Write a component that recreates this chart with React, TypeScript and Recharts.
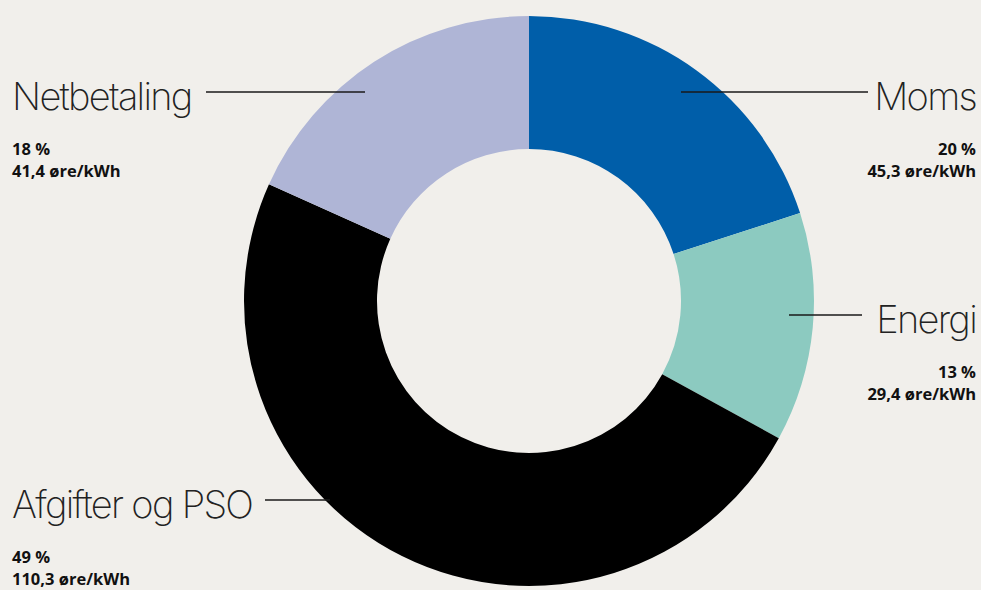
import { PieChart, Pie, Cell } from 'recharts'

const categories = ['Moms', 'Energi', 'Afgifter og PSO', 'Netbetaling']
const values = [45.3, 29.4, 110.3, 41.4]
const shares = ['20 %', '13 %', '49 %', '18 %']
const priceLabels = ['45,3 øre/kWh', '29,4 øre/kWh', '110,3 øre/kWh', '41,4 øre/kWh']
const colors = ['#005ea9', '#8ccac0', '#000000', '#afb5d6']

// where each label block sits (title baseline, side, line end)
const labelPos: Record<string, { x: number; y: number; anchor: 'start' | 'end'; lineFrom: number; lineTo: number }> = {
  'Moms': { x: 976, y: 110, anchor: 'end', lineFrom: 681, lineTo: 868 },
  'Energi': { x: 976, y: 333, anchor: 'end', lineFrom: 789, lineTo: 862 },
  'Afgifter og PSO': { x: 12, y: 518, anchor: 'start', lineFrom: 265, lineTo: 330 },
  'Netbetaling': { x: 12, y: 110, anchor: 'start', lineFrom: 206, lineTo: 365 },
}

const data = categories.map((name, i) => ({
  name,
  value: values[i],
  share: shares[i],
  price: priceLabels[i],
}))

function SliceLabel(props: any) {
  const p = labelPos[props.name]
  if (!p) return null
  return (
    <g>
      <line x1={p.lineFrom} x2={p.lineTo} y1={p.y - 18} y2={p.y - 18} stroke="#1a1a1a" strokeWidth={1.3} />
      <text x={p.x} y={p.y} textAnchor={p.anchor} fontFamily="Inter" fontWeight={150} fontSize={38} letterSpacing={-1.7} fill="#222">
        {props.name}
      </text>
      <text x={p.x} y={p.y + 45} textAnchor={p.anchor} fontFamily="'Open Sans'" fontWeight={700} fontSize={16.5} fill="#111">
        {props.payload.share}
      </text>
      <text x={p.x} y={p.y + 67} textAnchor={p.anchor} fontFamily="'Open Sans'" fontWeight={700} fontSize={16.5} fill="#111">
        {props.payload.price}
      </text>
    </g>
  )
}

export default function App() {
  return (
    <div style={{ position: 'absolute', left: 0, top: 0, width: 981, height: 590, background: '#f1efeb' }}>
      <PieChart width={981} height={590} margin={{ top: 0, right: 0, bottom: 0, left: 0 }}>
        <Pie
          data={data}
          dataKey="value"
          nameKey="name"
          cx={529}
          cy={301}
          innerRadius={152}
          outerRadius={285}
          startAngle={90}
          endAngle={-270}
          stroke="none"
          label={SliceLabel}
          labelLine={false}
          isAnimationActive={false}
        >
          {data.map((d, i) => (
            <Cell key={d.name} fill={colors[i]} />
          ))}
        </Pie>
      </PieChart>
    </div>
  )
}
